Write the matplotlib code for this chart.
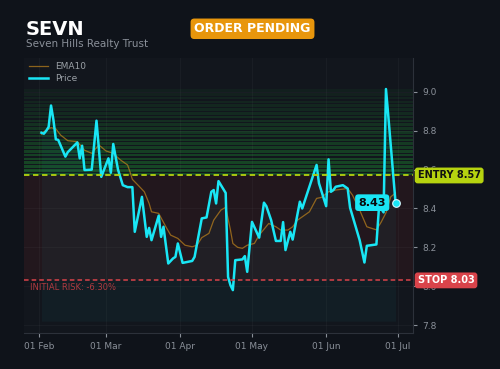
import numpy as np
import pandas as pd
import matplotlib
matplotlib.use("Agg")
import matplotlib.pyplot as plt
import matplotlib.dates as mdates

# price vertices (days after 1 Feb, value)
price_days = [1, 2, 3, 4, 5, 6, 7, 8, 11, 12, 16, 17, 18, 19, 22, 24, 26, 29, 30, 31,
              33, 35, 37, 39, 40, 43, 45, 46, 47, 50, 51, 52, 54, 56, 57, 58, 60, 64, 65,
              68, 70, 72, 73, 74, 75, 78, 79, 80, 81, 82, 85, 86, 87, 89, 92, 94, 95, 97,
              99, 101, 102, 103, 105, 106, 109, 110, 112, 116, 117, 120, 121, 122, 123,
              124, 127, 129, 130, 134, 136, 137, 141, 142, 143, 144, 145, 146, 149]
price_vals = [8.79, 8.785, 8.80, 8.82, 8.93, 8.856, 8.756, 8.753, 8.667, 8.69, 8.74, 8.658,
              8.723, 8.598, 8.60, 8.852, 8.563, 8.658, 8.584, 8.732, 8.60, 8.52, 8.51, 8.51,
              8.28, 8.46, 8.254, 8.30, 8.237, 8.363, 8.254, 8.306, 8.117, 8.143, 8.151, 8.22,
              8.12, 8.13, 8.151, 8.349, 8.354, 8.486, 8.495, 8.426, 8.541, 8.48, 8.048, 8.005,
              7.98, 8.134, 8.138, 8.155, 8.074, 8.331, 8.25, 8.43, 8.412, 8.34, 8.233, 8.233,
              8.33, 8.186, 8.28, 8.24, 8.435, 8.40, 8.475, 8.624, 8.53, 8.412, 8.653, 8.486,
              8.495, 8.512, 8.52, 8.503, 8.404, 8.237, 8.122, 8.208, 8.215, 8.392, 8.40, 8.38,
              9.015, 8.873, 8.43]

ema_days = [1, 2, 5, 7, 9, 12, 16, 19, 22, 25, 28, 31, 34, 37, 38, 39, 42, 44, 46, 47, 50,
            53, 55, 58, 61, 64, 66, 68, 71, 73, 76, 78, 80, 81, 83, 85, 87, 90, 92, 96, 99,
            101, 104, 106, 108, 110, 113, 116, 118, 121, 124, 129, 131, 134, 137, 141, 143,
            145, 147, 149]
ema_vals = [8.782, 8.796, 8.816, 8.81, 8.778, 8.749, 8.744, 8.70, 8.684, 8.727, 8.696, 8.684,
            8.65, 8.624, 8.589, 8.55, 8.512, 8.486, 8.426, 8.383, 8.375, 8.306, 8.263, 8.246,
            8.211, 8.203, 8.211, 8.25, 8.272, 8.34, 8.392, 8.406, 8.289, 8.22, 8.20, 8.195,
            8.211, 8.22, 8.263, 8.323, 8.306, 8.289, 8.289, 8.306, 8.34, 8.357, 8.383, 8.452,
            8.457, 8.486, 8.495, 8.503, 8.469, 8.392, 8.306, 8.29, 8.33, 8.378, 8.46, 8.48]

ticker = "SEVN"
company = "Seven Hills Realty Trust"
entry = 8.57
stop = 8.03
risk_text = "INITIAL RISK: -6.30%"
last_label = "8.43"

start = pd.Timestamp("2025-02-01")
p_dates = start + pd.to_timedelta(price_days, unit="D")
e_dates = start + pd.to_timedelta(ema_days, unit="D")

bg = "#0f131a"
ax_bg = "#12161d"
cyan = "#19e6f5"

fig = plt.figure(figsize=(5, 3.69), dpi=100, facecolor=bg)
ax = fig.add_axes([0.048, 0.098, 0.778, 0.745], facecolor=ax_bg)

ax.set_ylim(7.76, 9.175)
ax.set_xlim(start - pd.Timedelta(days=6.3), start + pd.Timedelta(days=156.3))

# green target zone: stack of striped bands fading upward
edges = np.linspace(entry, 9.02, 24)
for i in range(len(edges) - 1):
    a = 0.26 * (1 - i / (len(edges) - 1)) + 0.04
    ax.axhspan(edges[i], edges[i + 1] - 0.006, color="#22c83a", alpha=a, lw=0)
ax.axhspan(stop, entry, color="#ff2a2a", alpha=0.07, lw=0)

ax.fill_between(p_dates, price_vals, 7.82, color=cyan, alpha=0.04, lw=0)

ax.plot(e_dates, ema_vals, color="#c0841c", lw=0.9, alpha=0.7, label="EMA10")
ax.plot(p_dates, price_vals, color=cyan, lw=1.8, label="Price")
ax.plot(p_dates[-1], price_vals[-1], "o", ms=5.5, color=cyan, mec="#d8f8ff", mew=0.8)

ax.axhline(entry, color="#b6d30f", ls=(0, (3, 2)), lw=1.3)
ax.axhline(stop, color="#d9434a", ls=(0, (3, 2)), lw=1.1)

ax.text(1.012, entry, "ENTRY 8.57", transform=ax.get_yaxis_transform(), va="center",
        ha="left", fontsize=7, fontweight="bold", color="#111111", zorder=5,
        bbox=dict(boxstyle="round,pad=0.3", fc="#b6d30f", ec="none"))
ax.text(1.012, stop, "STOP 8.03", transform=ax.get_yaxis_transform(), va="center",
        ha="left", fontsize=7, fontweight="bold", color="white", zorder=5,
        bbox=dict(boxstyle="round,pad=0.3", fc="#d9434a", ec="none"))
ax.text(p_dates[-1] - pd.Timedelta(days=4), price_vals[-1], last_label, va="center",
        ha="right", fontsize=8, fontweight="bold", color="#0a0a0a",
        bbox=dict(boxstyle="round,pad=0.3", fc=cyan, ec="none"))
ax.text(0.015, stop - 0.015, risk_text, transform=ax.get_yaxis_transform(), va="top",
        ha="left", fontsize=6, color="#b03a40")

ax.xaxis.set_major_locator(mdates.MonthLocator())
ax.xaxis.set_major_formatter(mdates.DateFormatter("%d %b"))
ax.yaxis.tick_right()
ax.set_yticks([7.8, 8.0, 8.2, 8.4, 8.6, 8.8, 9.0])
ax.tick_params(colors="#8a9099", labelsize=6.5, length=3)
ax.grid(color="white", alpha=0.04, lw=0.6)
for s in ["top", "left"]:
    ax.spines[s].set_visible(False)
for s in ["bottom", "right"]:
    ax.spines[s].set_color("#2c313a")

leg = ax.legend(loc="upper left", frameon=False, fontsize=6.5, handlelength=2.2,
                borderaxespad=0.1, labelspacing=0.25)
for t in leg.get_texts():
    t.set_color("#9aa0a6")

fig.text(0.052, 0.92, ticker, fontsize=14, fontweight="bold", color="white", va="center")
fig.text(0.052, 0.88, company, fontsize=7.5, color="#8a9099", va="center")
fig.text(0.505, 0.922, "ORDER PENDING", fontsize=9, fontweight="bold", color="white",
         ha="center", va="center",
         bbox=dict(boxstyle="round,pad=0.3", fc="#e8960c", ec="none"))

fig.savefig("out.png", dpi=100, facecolor=bg)
